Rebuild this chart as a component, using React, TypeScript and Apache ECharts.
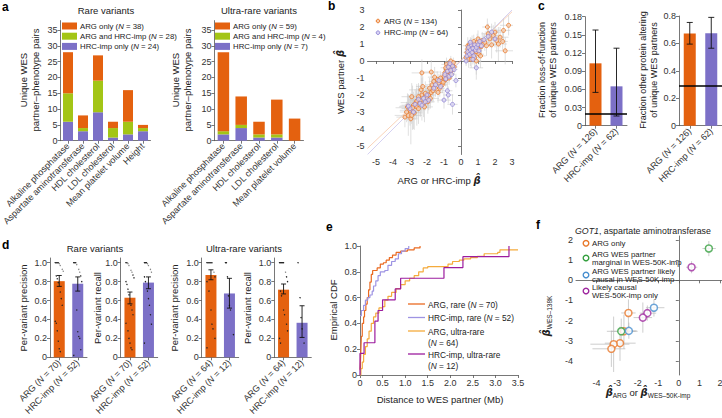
import React, { useEffect, useRef } from 'react';
import * as echarts from 'echarts';

const FONT = '"Liberation Sans", Arial, Helvetica, sans-serif';
const BETA_FONT = '"DejaVu Sans", "Liberation Sans", sans-serif';
const INK = '#222';
const AXIS = '#555';
const ORANGE = '#e4610f';
const GREEN = '#a3c516';
const PURPLE = '#7c70c7';

// ---------- panel a ----------
const traitsRare = ['Alkaline phosphatase', 'Aspartate aminotransferase', 'HDL cholesterol', 'LDL cholesterol', 'Mean platelet volume', 'Height'];
const rareHrcOnly = [6, 3, 9, 1, 2, 3];
const rareBoth = [9, 1, 10, 3, 4, 1];
const rareArgOnly = [13, 4, 8, 2, 10, 1];
const traitsUltra = ['Alkaline phosphatase', 'Aspartate aminotransferase', 'HDL cholesterol', 'LDL cholesterol', 'Mean platelet volume'];
const ultraHrcOnly = [2, 4, 1, 1, 0];
const ultraBoth = [1, 1, 1, 1, 0];
const ultraArgOnly = [25, 9, 4, 11, 7];
const pairTicks = [0, 5, 10, 15, 20, 25, 30, 35];
const legendRare = ['ARG only ({i|N} = 38)', 'ARG and HRC-imp ({i|N} = 28)', 'HRC-imp only ({i|N} = 24)'];
const legendUltra = ['ARG only ({i|N} = 59)', 'ARG and HRC-imp ({i|N} = 4)', 'HRC-imp only ({i|N} = 7)'];

// ---------- panel b : [x, y, xErr, yErr] ----------
const bArg = [
  [-3.3, -3.3, 0.5, 0.6], [-3.1, -3.2, 0.8, 1.2], [-3.0, -2.9, 0.6, 0.9], [-2.95, -3.4, 0.4, 1.5], [-2.8, -2.6, 0.7, 0.8],
  [-2.75, -3.05, 0.5, 1.0], [-2.6, -2.7, 0.6, 1.1], [-2.65, -2.45, 0.9, 0.7], [-2.5, -2.8, 0.4, 0.9], [-3.15, -2.7, 0.5, 0.8],
  [-2.85, -2.75, 1.0, 1.3], [-3.2, -3.0, 0.4, 0.6], [-2.9, -3.2, 0.3, 0.5],
  [-2.4, -2.3, 0.6, 0.9], [-2.3, -2.0, 0.5, 1.0], [-2.2, -2.5, 0.4, 0.8], [-2.1, -1.9, 0.5, 0.7], [-2.0, -2.2, 0.3, 0.6],
  [-2.35, -1.7, 0.7, 1.2], [-1.9, -2.0, 0.4, 0.5], [-1.85, -1.6, 0.3, 0.6], [-2.5, -2.1, 0.6, 0.8], [-2.15, -2.7, 0.5, 0.9],
  [-1.95, -2.4, 0.4, 0.7], [-1.75, -1.85, 0.3, 0.5], [-2.6, -2.35, 0.5, 1.0], [-2.25, -1.5, 0.4, 0.6], [-1.8, -2.2, 0.5, 0.6],
  [-1.7, -1.4, 0.4, 0.6], [-1.6, -1.2, 0.3, 0.5], [-1.5, -1.6, 0.3, 0.5], [-1.4, -1.1, 0.3, 0.5], [-1.3, -1.3, 0.3, 0.4],
  [-1.2, -1.0, 0.2, 0.4], [-1.25, -1.6, 0.3, 0.5], [-1.55, -0.95, 0.4, 0.6], [-1.1, -1.4, 0.3, 0.5], [-1.35, -1.85, 0.3, 0.6],
  [-1.65, -1.75, 0.5, 0.7], [-1.15, -1.2, 0.2, 0.3],
  [-1.0, -0.9, 0.3, 0.5], [-0.95, -0.7, 0.2, 0.4], [-0.9, -1.1, 0.2, 0.4], [-0.85, -0.5, 0.2, 0.4], [-0.8, -0.85, 0.2, 0.3],
  [-0.75, -0.6, 0.2, 0.3], [-0.7, -1.0, 0.2, 0.4], [-0.65, -0.4, 0.2, 0.3], [-0.6, -0.75, 0.2, 0.3], [-0.55, -0.2, 0.2, 0.3],
  [-0.5, -0.5, 0.2, 0.3], [-0.85, -0.2, 0.3, 0.4], [-0.6, 0.0, 0.2, 0.3], [-0.45, -0.1, 0.2, 0.3], [-1.05, -1.25, 0.3, 0.5],
  [-0.4, -0.35, 0.2, 0.3], [-0.7, -0.25, 0.2, 0.3], [-0.9, -0.4, 0.3, 0.4],
  [-2.3, -0.7, 0.6, 0.8], [-1.75, -0.65, 0.5, 0.7], [-2.9, -2.1, 0.6, 0.8],
  [0.3, 0.2, 0.2, 0.4], [0.35, 0.5, 0.2, 0.4], [0.4, 0.9, 0.3, 0.5], [0.45, 0.1, 0.2, 0.5], [0.5, 0.6, 0.2, 0.4],
  [0.55, 0.3, 0.3, 0.6], [0.6, 0.8, 0.2, 0.4], [0.65, 1.0, 0.3, 0.5], [0.7, 0.45, 0.2, 0.4], [0.75, 0.7, 0.2, 0.4],
  [0.8, 0.2, 0.3, 0.6], [0.85, 0.9, 0.2, 0.3], [0.9, 0.55, 0.2, 0.3], [0.95, 1.1, 0.3, 0.5], [1.0, 0.75, 0.2, 0.4],
  [1.05, 0.4, 0.3, 0.6], [1.1, 1.0, 0.2, 0.4], [1.15, 0.3, 0.3, 0.7], [1.2, 0.85, 0.2, 0.5], [1.25, 1.2, 0.3, 0.5],
  [0.5, 0.95, 0.2, 0.3], [0.6, 0.1, 0.2, 0.5], [0.75, 1.15, 0.3, 0.4], [0.9, 0.0, 0.3, 0.8], [1.0, 1.3, 0.2, 0.5], [0.4, 0.7, 0.2, 0.3],
  [1.4, 1.1, 0.3, 0.5], [1.5, 0.9, 0.4, 0.6], [1.6, 1.6, 0.4, 0.6], [1.7, 1.3, 0.3, 0.5], [1.8, 0.95, 0.5, 0.8],
  [1.9, 1.5, 0.4, 0.6], [2.0, 1.7, 0.5, 0.6], [2.1, 1.2, 0.4, 0.7], [2.2, 1.0, 0.5, 1.0], [2.3, 1.4, 0.5, 0.6],
  [2.5, 1.8, 0.4, 0.7], [2.6, 0.6, 0.6, 0.8], [2.8, 2.1, 0.5, 0.6], [2.45, 1.15, 0.3, 0.5], [1.55, 2.0, 0.3, 0.5],
];
const bHrc = [
  [-3.0, -2.8, 0.5, 0.8], [-2.8, -3.0, 0.4, 1.0], [-2.7, -2.55, 0.6, 0.9], [-3.1, -2.65, 0.5, 0.7],
  [-2.4, -2.5, 0.5, 0.8], [-2.2, -2.2, 0.4, 0.7], [-2.0, -2.0, 0.4, 0.6], [-2.3, -2.6, 0.5, 0.9], [-1.9, -2.3, 0.3, 0.6],
  [-2.5, -2.25, 0.6, 0.8], [-2.1, -2.4, 0.4, 0.5],
  [-1.5, -1.4, 0.3, 0.5], [-1.3, -1.15, 0.3, 0.4], [-1.2, -1.5, 0.2, 0.4], [-1.6, -1.6, 0.4, 0.6],
  [-0.95, -0.8, 0.2, 0.4], [-0.8, -0.6, 0.2, 0.3], [-0.7, -0.9, 0.2, 0.3], [-0.6, -0.55, 0.2, 0.3], [-0.5, -0.3, 0.2, 0.3],
  [-0.75, -0.35, 0.2, 0.3], [-0.9, -1.05, 0.3, 0.4], [-0.55, -0.8, 0.2, 0.3], [-0.65, -0.15, 0.2, 0.3], [-0.4, -0.5, 0.2, 0.3],
  [-0.5, -2.55, 0.3, 0.6], [-1.0, -2.3, 0.4, 0.5], [-0.75, -2.0, 0.3, 0.5], [-0.8, -1.75, 0.3, 0.5], [0.9, -0.4, 0.4, 0.7], [-0.3, -1.15, 0.2, 0.4],
  [0.35, 0.3, 0.2, 0.4], [0.4, 0.55, 0.2, 0.3], [0.45, 0.8, 0.2, 0.4], [0.5, 0.4, 0.2, 0.3], [0.55, 0.65, 0.2, 0.3],
  [0.6, 0.95, 0.2, 0.4], [0.65, 0.5, 0.2, 0.3], [0.7, 0.75, 0.2, 0.3], [0.75, 0.3, 0.2, 0.4], [0.8, 0.95, 0.2, 0.4],
  [0.85, 0.65, 0.2, 0.3], [0.9, 0.8, 0.2, 0.3], [1.0, 0.95, 0.2, 0.3], [1.05, 0.6, 0.2, 0.4], [1.1, 1.15, 0.2, 0.3],
  [0.7, 0.1, 0.2, 0.3], [0.55, 1.1, 0.2, 0.3], [1.2, 0.9, 0.2, 0.4], [0.3, 0.0, 0.2, 0.3], [1.35, 1.25, 0.3, 0.4],
  [1.6, 1.45, 0.3, 0.5], [2.0, 1.3, 0.3, 0.5], [1.8, 1.7, 0.4, 0.5],
];
const bArgFit = [0.945, 0.06]; // slope, intercept
const bHrcFit = [1.0, 0.0];
const betaTicks = [-5, -4, -3, -2, -1, 0, 1, 2, 3];

// ---------- panel c ----------
const cGroups = ['ARG (N = 126)', 'HRC-imp (N = 62)'];
const cLofValue = [0.103, 0.065];
const cLofLow = [0.055, 0.016];
const cLofHigh = [0.158, 0.128];
const cLofBaseline = 0.021;
const cLofTicks = [0, 0.03, 0.06, 0.09, 0.12, 0.15, 0.18];
const cOtherValue = [0.672, 0.675];
const cOtherLow = [0.595, 0.565];
const cOtherHigh = [0.753, 0.79];
const cOtherBaseline = 0.295;
const cOtherTicks = [0, 0.2, 0.4, 0.6, 0.8];

// ---------- panel d ----------
const dRareGroups = ['ARG (N = 70)', 'HRC-imp (N = 52)'];
const dUltraGroups = ['ARG (N = 64)', 'HRC-imp (N = 12)'];
const dRarePrecision = [0.805, 0.778];
const dRarePrecisionLow = [0.75, 0.7];
const dRarePrecisionHigh = [0.865, 0.85];
const dRareRecall = [0.63, 0.79];
const dRareRecallLow = [0.565, 0.725];
const dRareRecallHigh = [0.69, 0.85];
const dUltraPrecision = [0.87, 0.675];
const dUltraPrecisionLow = [0.82, 0.52];
const dUltraPrecisionHigh = [0.925, 0.835];
const dUltraRecall = [0.715, 0.365];
const dUltraRecallLow = [0.67, 0.21];
const dUltraRecallHigh = [0.775, 0.545];
const dRarePrecArgPts = [1, 1, 1, 1, 0.99, 0.97, 0.95, 0.93, 0.91, 0.88, 0.86, 0.83, 0.79, 0.74, 0.69, 0.62, 0.55, 0.47, 0.38, 0.36, 0.28, 0.17, 0.09, 0.06, 0.04, 0.05];
const dRarePrecHrcPts = [1, 1, 1, 0.98, 0.96, 0.93, 0.9, 0.86, 0.8, 0.75, 0.68, 0.6, 0.5, 0.27, 0.22, 0.2, 0.08, 0.04, 0.02];
const dRareRecArgPts = [1, 1, 0.99, 0.97, 0.95, 0.92, 0.9, 0.87, 0.84, 0.8, 0.77, 0.72, 0.66, 0.6, 0.55, 0.5, 0.45, 0.4, 0.36, 0.33, 0.28, 0.2, 0.15, 0.1, 0.08, 0.05];
const dRareRecHrcPts = [1, 1, 1, 0.99, 0.97, 0.95, 0.93, 0.9, 0.88, 0.85, 0.8, 0.75, 0.7, 0.62, 0.55, 0.45, 0.35, 0.25, 0.15];
const dUltraPrecArgPts = [1, 1, 1, 1, 1, 1, 0.95, 0.9, 0.85, 0.8, 0.75, 0.7, 0.6, 0.5, 0.35, 0.3, 0.25, 0.2, 0.1, 0.05];
const dUltraPrecHrcPts = [1, 1, 0.85, 0.65, 0.55, 0.5, 0.4, 0.25, 0.24];
const dUltraRecArgPts = [1, 1, 1, 1, 1, 0.95, 0.9, 0.85, 0.8, 0.75, 0.7, 0.65, 0.6, 0.5, 0.45, 0.4, 0.35, 0.28, 0.2, 0.15];
const dUltraRecHrcPts = [1, 0.75, 0.63, 0.42, 0.3, 0.18, 0.15];
const fracTicks = [0, 0.2, 0.4, 0.6, 0.8, 1.0];

// ---------- panel e : ECDF step points [distance Mb, cumulative fraction] ----------
const eArgRare = [[0, 0.04], [0.01, 0.1], [0.02, 0.2], [0.03, 0.3], [0.05, 0.4], [0.08, 0.45], [0.1, 0.5], [0.13, 0.55], [0.16, 0.6], [0.19, 0.66], [0.22, 0.72], [0.25, 0.78], [0.28, 0.81], [0.38, 0.83], [0.45, 0.86], [0.52, 0.87], [0.58, 0.89], [0.65, 0.91], [0.72, 0.93], [0.8, 0.95], [0.9, 0.96], [1.05, 0.97], [1.2, 0.985], [1.33, 1.0]];
const eHrcRare = [[0, 0.46], [0.03, 0.5], [0.08, 0.54], [0.12, 0.58], [0.17, 0.6], [0.22, 0.62], [0.27, 0.65], [0.3, 0.69], [0.35, 0.73], [0.4, 0.77], [0.45, 0.8], [0.55, 0.81], [0.62, 0.85], [0.7, 0.88], [0.78, 0.9], [0.85, 0.94], [0.92, 0.96], [1.0, 0.98], [1.08, 1.0]];
const eArgUltra = [[0, 0], [0.02, 0.05], [0.05, 0.1], [0.08, 0.16], [0.12, 0.22], [0.16, 0.28], [0.2, 0.34], [0.25, 0.4], [0.3, 0.45], [0.35, 0.48], [0.42, 0.52], [0.5, 0.53], [0.55, 0.58], [0.62, 0.61], [0.7, 0.64], [0.8, 0.67], [0.9, 0.7], [1.0, 0.73], [1.1, 0.75], [1.2, 0.77], [1.3, 0.8], [1.4, 0.83], [1.5, 0.84], [1.95, 0.86], [2.05, 0.88], [2.2, 0.89], [2.3, 0.9], [2.45, 0.91], [2.6, 0.92], [2.75, 0.94], [3.05, 0.95], [3.1, 0.97], [3.5, 0.97]];
const eHrcUltra = [[0, 0], [0, 0.167], [0.09, 0.25], [0.33, 0.333], [0.33, 0.417], [0.4, 0.5], [0.5, 0.583], [0.78, 0.667], [0.9, 0.75], [1.86, 0.833], [2.28, 0.917], [3.3, 1.0]];
const distTicks = [0, 0.5, 1, 1.5, 2, 2.5, 3, 3.5];
const cdfTicks = [0, 0.2, 0.4, 0.6, 0.8, 1.0];

// ---------- panel f : [x, y, xLow, xHigh, yLow, yHigh] ----------
const fArgOnly = [[-2.45, -1.62, -2.8, -2.1, -2.6, -0.95], [-2.67, -2.53, -3.3, -2.0, -3.4, -1.7], [-2.86, -3.12, -3.6, -2.1, -4.0, -2.3], [-3.17, -3.17, -4.3, -2.4, -4.55, -1.8], [-3.28, -3.4, -4.2, -2.6, -4.3, -2.5]];
const fMarginal = [[-2.8, -2.53, -3.5, -2.1, -3.2, -1.9], [1.46, 1.58, 1.15, 1.8, 1.2, 1.95]];
const fLikelyCausal = [[-2.43, -2.51, -2.8, -2.05, -2.9, -2.1], [-1.21, -1.36, -1.6, -0.7, -1.8, -0.95]];
const fWesOnly = [[-1.53, -1.63, -1.9, -1.1, -2.0, -1.25], [-1.75, -1.85, -2.2, -1.3, -2.6, -1.1], [0.62, 0.65, 0.35, 0.9, 0.35, 0.95]];
const fTicks = [-4, -3, -2, -1, 0, 1, 2];

function buildOption() {
  const grids: any[] = [];
  const xAxes: any[] = [];
  const yAxes: any[] = [];
  const series: any[] = [];
  const graphics: any[] = [];

  const TICK_FS = 9;
  const lineStyle = { color: AXIS, width: 0.8 };
  const richI = (fs: number) => ({ i: { fontStyle: 'italic', fontSize: fs, fontFamily: FONT, color: '#333' } });

  const addGrid = (left: number, top: number, width: number, height: number) => {
    grids.push({ left, top, width, height, containLabel: false, outerBoundsMode: 'none' });
    return grids.length - 1;
  };
  const valueAxis = (gridIndex: number, min: number, max: number, ticks: number[], fmt?: (v: number) => string) => ({
    type: 'value', gridIndex, min, max,
    axisLine: { show: true, lineStyle },
    axisTick: { show: true, length: 3, customValues: ticks, lineStyle },
    axisLabel: { customValues: ticks, formatter: fmt, color: '#333', fontSize: TICK_FS, fontFamily: FONT, margin: 3 },
    splitLine: { show: false },
  });
  const catAxis = (gridIndex: number, data: string[], fs = 9) => ({
    type: 'category', gridIndex, data,
    axisLine: { show: true, lineStyle },
    axisTick: { show: true, length: 3, alignWithLabel: true, lineStyle },
    axisLabel: {
      interval: 0, rotate: 45, fontSize: fs, fontFamily: FONT, color: '#333', margin: 4,
      formatter: (v: string) => v.replace('(N', '({i|N}'), rich: richI(fs),
    },
    splitLine: { show: false },
  });
  const txt = (x: number, y: number, text: string, o: any = {}) => {
    const fs = o.size || 9;
    graphics.push({
      type: 'text', x, y, rotation: o.rot || 0, silent: true, z: 100,
      style: {
        text, fill: o.color || INK, fontSize: fs, fontFamily: FONT, fontWeight: o.weight || 'normal',
        fontStyle: o.style || 'normal',
        align: o.align || 'left', verticalAlign: o.va || 'middle', lineHeight: o.lh || fs * 1.2,
        rich: o.rich || richI(fs),
      },
    });
  };
  const fmt1 = (v: number) => (v === 0 ? '0' : v.toFixed(1));
  const fmt2 = (v: number) => (v === 0 ? '0' : v.toFixed(2));

  const errSeries = (xi: number, lows: number[], highs: number[], cap = 3) => ({
    type: 'custom', xAxisIndex: xi, yAxisIndex: xi, z: 5, silent: true,
    data: lows.map((l, i) => [i, l, highs[i]]),
    encode: { x: 0, y: [1, 2] },
    renderItem: (_p: any, api: any) => {
      const i = api.value(0);
      const a = api.coord([i, api.value(1)]);
      const b = api.coord([i, api.value(2)]);
      const st = { stroke: '#111', lineWidth: 0.9 };
      return {
        type: 'group', children: [
          { type: 'line', shape: { x1: a[0], y1: a[1], x2: b[0], y2: b[1] }, style: st },
          { type: 'line', shape: { x1: a[0] - cap, y1: a[1], x2: a[0] + cap, y2: a[1] }, style: st },
          { type: 'line', shape: { x1: b[0] - cap, y1: b[1], x2: b[0] + cap, y2: b[1] }, style: st },
        ],
      };
    },
  });
  const dotSeries = (xi: number, cat: number, vals: number[]) => ({
    type: 'custom', xAxisIndex: xi, yAxisIndex: xi, z: 4, silent: true,
    data: vals.map((v, k) => [cat, v, ((k * 37) % 9) - 4]),
    encode: { x: 0, y: 1 },
    renderItem: (_p: any, api: any) => {
      const c = api.coord([api.value(0), api.value(1)]);
      const v = api.value(1);
      return { type: 'circle', shape: { cx: c[0] + api.value(2), cy: c[1], r: 0.7 }, style: { fill: v >= 0.9 && v < 1 ? '#888' : '#222' } };
    },
  });

  // ===== panel a =====
  const aPanels = [
    { left: 60.5, width: 90, cats: traitsRare, h: rareHrcOnly, b: rareBoth, o: rareArgOnly, bw: 10, legend: legendRare, title: 'Rare variants', tx: 106, lx: 61, ylab: 29 },
    { left: 214.5, width: 89, cats: traitsUltra, h: ultraHrcOnly, b: ultraBoth, o: ultraArgOnly, bw: 11.5, legend: legendUltra, title: 'Ultra-rare variants', tx: 259, lx: 214, ylab: 181 },
  ];
  aPanels.forEach((p, k) => {
    const g = addGrid(p.left, 20.6, p.width, 120.1);
    xAxes.push(catAxis(g, p.cats, 9));
    yAxes.push(valueAxis(g, 0, 38, pairTicks));
    const stack = 'a' + k;
    [[p.h, PURPLE], [p.b, GREEN], [p.o, ORANGE]].forEach(([d, c]: any) => {
      series.push({ type: 'bar', xAxisIndex: g, yAxisIndex: g, stack, data: d, barWidth: p.bw, itemStyle: { color: c } });
    });
    txt(p.tx, 10, p.title, { align: 'center', size: 9.5 });
    [ORANGE, GREEN, PURPLE].forEach((c, r) => {
      const cy = 26 + r * 10.2;
      graphics.push({ type: 'rect', shape: { x: p.lx + 1, y: cy - 3.5, width: 15, height: 7 }, style: { fill: c }, z: 100 });
      txt(p.lx + 19, cy, p.legend[r], { size: 7.8 });
    });
    txt(p.ylab, 80, 'Unique WES\npartner–phenotype pairs', { rot: Math.PI / 2, align: 'center', size: 9.5, lh: 12 });
  });

  // ===== panel b =====
  const gb = addGrid(367.5, 10, 144.5, 144.5);
  xAxes.push(valueAxis(gb, -5.5, 3, betaTicks));
  yAxes.push(valueAxis(gb, -5.5, 3, betaTicks));
  const fitLine = (f: number[], color: string) => ({
    type: 'line', xAxisIndex: gb, yAxisIndex: gb, symbol: 'none', silent: true, z: 2,
    data: [[-5.5, -5.5 * f[0] + f[1]], [3, 3 * f[0] + f[1]]],
    lineStyle: { color, width: 0.6 },
  });
  series.push(fitLine(bArgFit, '#f4b48a'));
  series.push(fitLine(bHrcFit, '#b9b2ea'));
  series.push({
    type: 'custom', xAxisIndex: gb, yAxisIndex: gb, z: 3, silent: true, clip: true,
    data: [...bArg, ...bHrc],
    encode: { x: 0, y: 1 },
    renderItem: (_p: any, api: any) => {
      const x = api.value(0), y = api.value(1), ex = api.value(2), ey = api.value(3);
      const l = api.coord([x - ex, y]), r = api.coord([x + ex, y]);
      const t = api.coord([x, y + ey]), b = api.coord([x, y - ey]);
      const st = { stroke: '#cacaca', lineWidth: 0.6 };
      return {
        type: 'group', children: [
          { type: 'line', shape: { x1: l[0], y1: l[1], x2: r[0], y2: r[1] }, style: st },
          { type: 'line', shape: { x1: t[0], y1: t[1], x2: b[0], y2: b[1] }, style: st },
        ],
      };
    },
  });
  series.push({
    type: 'scatter', xAxisIndex: gb, yAxisIndex: gb, z: 6, symbolSize: 4,
    data: bArg.map((p) => [p[0], p[1]]),
    itemStyle: { color: '#f7cdae', borderColor: '#e8701c', borderWidth: 0.9 },
  });
  series.push({
    type: 'scatter', xAxisIndex: gb, yAxisIndex: gb, z: 7, symbolSize: 4,
    data: bHrc.map((p) => [p[0], p[1]]),
    itemStyle: { color: '#d9d4f4', borderColor: '#8a7fd3', borderWidth: 0.9 },
  });
  graphics.push({ type: 'circle', shape: { cx: 378, cy: 21, r: 1.8 }, style: { fill: '#f7cdae', stroke: '#e8701c', lineWidth: 0.9 }, z: 100 });
  graphics.push({ type: 'circle', shape: { cx: 378, cy: 32.7, r: 1.8 }, style: { fill: '#d9d4f4', stroke: '#8a7fd3', lineWidth: 0.9 }, z: 100 });
  txt(384, 21, 'ARG ({i|N} = 134)', { size: 8 });
  txt(384, 32.7, 'HRC-imp ({i|N} = 64)', { size: 8 });
  const betaRich = {
    b: { fontStyle: 'italic', fontWeight: 'bold', fontSize: 10, fontFamily: BETA_FONT, color: INK },
    s: { fontSize: 6.5, fontFamily: FONT, color: INK, padding: [6, 0, 0, 0] },
  };
  txt(340, 82, 'WES partner {b|β̂}', { rot: Math.PI / 2, align: 'center', size: 9.5, rich: betaRich });
  txt(439, 180, 'ARG or HRC-imp {b|β̂}', { align: 'center', size: 9.5, rich: betaRich });

  // ===== panel c =====
  const cPanels = [
    { left: 585, width: 42, top: 16.7, max: 0.18, ticks: cLofTicks, fmt: fmt2, v: cLofValue, lo: cLofLow, hi: cLofHigh, base: cLofBaseline, lab: 'Fraction loss-of-function\nof unique WES partners', lx: 547 },
    { left: 679, width: 43, top: 16, max: 0.8, ticks: cOtherTicks, fmt: fmt1, v: cOtherValue, lo: cOtherLow, hi: cOtherHigh, base: cOtherBaseline, lab: 'Fraction other protein altering\nof unique WES partners', lx: 648 },
  ];
  cPanels.forEach((p) => {
    const g = addGrid(p.left, p.top, p.width, 125.7 - p.top);
    xAxes.push(catAxis(g, cGroups, 9));
    yAxes.push(valueAxis(g, 0, p.max, p.ticks, p.fmt));
    series.push({
      type: 'bar', xAxisIndex: g, yAxisIndex: g, barWidth: 12,
      data: p.v.map((v, i) => ({ value: v, itemStyle: { color: i === 0 ? ORANGE : PURPLE } })),
      markLine: { silent: true, symbol: 'none', label: { show: false }, lineStyle: { color: '#000', width: 1.6, type: 'solid' }, data: [{ yAxis: p.base }] },
    });
    series.push(errSeries(g, p.lo, p.hi, 3));
    txt(p.lx, 70, p.lab, { rot: Math.PI / 2, align: 'center', size: 9, lh: 11 });
  });

  // ===== panel d =====
  const dPanels = [
    { left: 50, groups: dRareGroups, v: dRarePrecision, lo: dRarePrecisionLow, hi: dRarePrecisionHigh, pts: [dRarePrecArgPts, dRarePrecHrcPts], lab: 'Per-variant precision', lx: 23 },
    { left: 120.7, groups: dRareGroups, v: dRareRecall, lo: dRareRecallLow, hi: dRareRecallHigh, pts: [dRareRecArgPts, dRareRecHrcPts], lab: 'Per-variant recall', lx: 97 },
    { left: 201.7, groups: dUltraGroups, v: dUltraPrecision, lo: dUltraPrecisionLow, hi: dUltraPrecisionHigh, pts: [dUltraPrecArgPts, dUltraPrecHrcPts], lab: 'Per-variant precision', lx: 174 },
    { left: 274.3, groups: dUltraGroups, v: dUltraRecall, lo: dUltraRecallLow, hi: dUltraRecallHigh, pts: [dUltraRecArgPts, dUltraRecHrcPts], lab: 'Per-variant recall', lx: 247 },
  ];
  dPanels.forEach((p) => {
    const g = addGrid(p.left, 258, 37, 99.3);
    xAxes.push(catAxis(g, p.groups, 9));
    yAxes.push(valueAxis(g, 0, 1.05, fracTicks, fmt1));
    series.push({
      type: 'bar', xAxisIndex: g, yAxisIndex: g, barWidth: 11,
      data: p.v.map((v, i) => ({ value: v, itemStyle: { color: i === 0 ? ORANGE : PURPLE } })),
    });
    series.push(dotSeries(g, 0, p.pts[0]));
    series.push(dotSeries(g, 1, p.pts[1]));
    series.push(errSeries(g, p.lo, p.hi, 2.5));
    txt(p.lx, 308, p.lab, { rot: Math.PI / 2, align: 'center', size: 9.5 });
  });
  txt(95, 248, 'Rare variants', { align: 'center', size: 9.5 });
  txt(244, 248, 'Ultra-rare variants', { align: 'center', size: 9.5 });

  // ===== panel e =====
  const ge = addGrid(360, 246, 158, 129);
  xAxes.push(valueAxis(ge, 0, 3.5, distTicks, fmt1));
  yAxes.push(valueAxis(ge, 0, 1.0, cdfTicks, fmt1));
  const eCurves = [
    { d: eArgRare, c: '#ea6a21', lab: 'ARG, rare ({i|N} = 70)' },
    { d: eHrcRare, c: '#9e94e3', lab: 'HRC-imp, rare ({i|N} = 52)' },
    { d: eArgUltra, c: '#f5ab3c', lab: 'ARG, ultra-rare\n({i|N} = 64)' },
    { d: eHrcUltra, c: '#9c1c9e', lab: 'HRC-imp, ultra-rare\n({i|N} = 12)' },
  ];
  eCurves.forEach((cv) => {
    series.push({
      type: 'line', xAxisIndex: ge, yAxisIndex: ge, step: 'end', symbol: 'none', silent: true,
      data: cv.d, lineStyle: { color: cv.c, width: 1.2 }, clip: false,
    });
  });
  const eLegY = [304, 317.5, 331, 354];
  eCurves.forEach((cv, k) => {
    const y = eLegY[k];
    graphics.push({ type: 'line', shape: { x1: 408, y1: y, x2: 425, y2: y }, style: { stroke: cv.c, lineWidth: 1.3 }, z: 100 });
    txt(428, y - 4.8, cv.lab, { size: 8.3, va: 'top', lh: 11.5 });
  });
  txt(333, 310, 'Empirical CDF', { rot: Math.PI / 2, align: 'center', size: 9.5 });
  txt(440, 399, 'Distance to WES partner (Mb)', { align: 'center', size: 9.5 });

  // ===== panel f =====
  const gf = addGrid(576, 236, 146, 139);
  xAxes.push(valueAxis(gf, -5, 2.1, fTicks));
  yAxes.push(valueAxis(gf, -4.7, 2.2, fTicks));
  const fGroups = [
    { d: fArgOnly, c: '#e8782a', lab: 'ARG only' },
    { d: fMarginal, c: '#36a040', lab: 'ARG WES partner\nmarginal in WES-50K-imp' },
    { d: fLikelyCausal, c: '#4a90d0', lab: 'ARG WES partner likely\ncausal in WES-50K-imp' },
    { d: fWesOnly, c: '#a02aa0', lab: 'Likely causal\nWES-50K-imp only' },
  ];
  series.push({
    type: 'custom', xAxisIndex: gf, yAxisIndex: gf, z: 3, silent: true, clip: true,
    data: [...fArgOnly, ...fMarginal, ...fLikelyCausal, ...fWesOnly],
    encode: { x: 0, y: 1 },
    renderItem: (_p: any, api: any) => {
      const x = api.value(0), y = api.value(1);
      const l = api.coord([api.value(2), y]), r = api.coord([api.value(3), y]);
      const b = api.coord([x, api.value(4)]), t = api.coord([x, api.value(5)]);
      const st = { stroke: '#b8b8b8', lineWidth: 0.7 };
      return {
        type: 'group', children: [
          { type: 'line', shape: { x1: l[0], y1: l[1], x2: r[0], y2: r[1] }, style: st },
          { type: 'line', shape: { x1: t[0], y1: t[1], x2: b[0], y2: b[1] }, style: st },
        ],
      };
    },
  });
  fGroups.forEach((fg) => {
    series.push({
      type: 'scatter', xAxisIndex: gf, yAxisIndex: gf, z: 6, symbolSize: 7,
      data: fg.d.map((p) => [p[0], p[1]]),
      itemStyle: { color: '#fff', borderColor: fg.c, borderWidth: 1.5 },
    });
  });
  const fLegY = [243.3, 258, 275, 291];
  const fTxtY = [243.3, 254.3, 271, 287.3];
  fGroups.forEach((fg, k) => {
    graphics.push({ type: 'circle', shape: { cx: 586, cy: fLegY[k], r: 2.8 }, style: { fill: '#fff', stroke: fg.c, lineWidth: 1.4 }, z: 100 });
    txt(592, fTxtY[k] - 4.15, fg.lab, { size: 7.8, va: 'top', lh: 8.3 });
  });
  txt(575, 231, '{g|GOT1}, aspartate aminotransferase', {
    size: 8.8, rich: { g: { fontStyle: 'italic', fontSize: 8.8, fontFamily: FONT, color: INK } },
  });
  const subRich = {
    b: { fontStyle: 'italic', fontWeight: 'bold', fontSize: 10, fontFamily: BETA_FONT, color: INK },
    s: { fontSize: 6.5, fontFamily: FONT, color: INK, padding: [6, 0, 0, 0] },
  };
  txt(648, 392, '{b|β̂}{s|ARG} or {b|β̂}{s|WES–50K-imp}', { align: 'center', size: 9.5, rich: subRich });
  txt(546, 316, '{b|β̂}{s|WES–138K}', { rot: Math.PI / 2, align: 'center', size: 9.5, rich: subRich });

  // ===== panel letters =====
  const letters: [string, number, number][] = [['a', 2, 7], ['b', 328, 6], ['c', 538, 6], ['d', 2, 245], ['e', 326, 227], ['f', 536, 225]];
  letters.forEach(([l, x, y]) => txt(x, y, l, { size: 12, weight: 'bold', color: '#000' }));

  return {
    animation: false,
    backgroundColor: '#fff',
    grid: grids,
    xAxis: xAxes,
    yAxis: yAxes,
    series,
    graphic: { elements: graphics },
  };
}

export default function App() {
  const ref = useRef<HTMLDivElement>(null);
  useEffect(() => {
    document.body.style.margin = '0';
    const chart = echarts.init(ref.current!, null, { renderer: 'svg', width: 722, height: 418 });
    chart.setOption(buildOption() as any);
    return () => chart.dispose();
  }, []);
  return <div ref={ref} style={{ width: 722, height: 418, background: '#fff' }} />;
}
